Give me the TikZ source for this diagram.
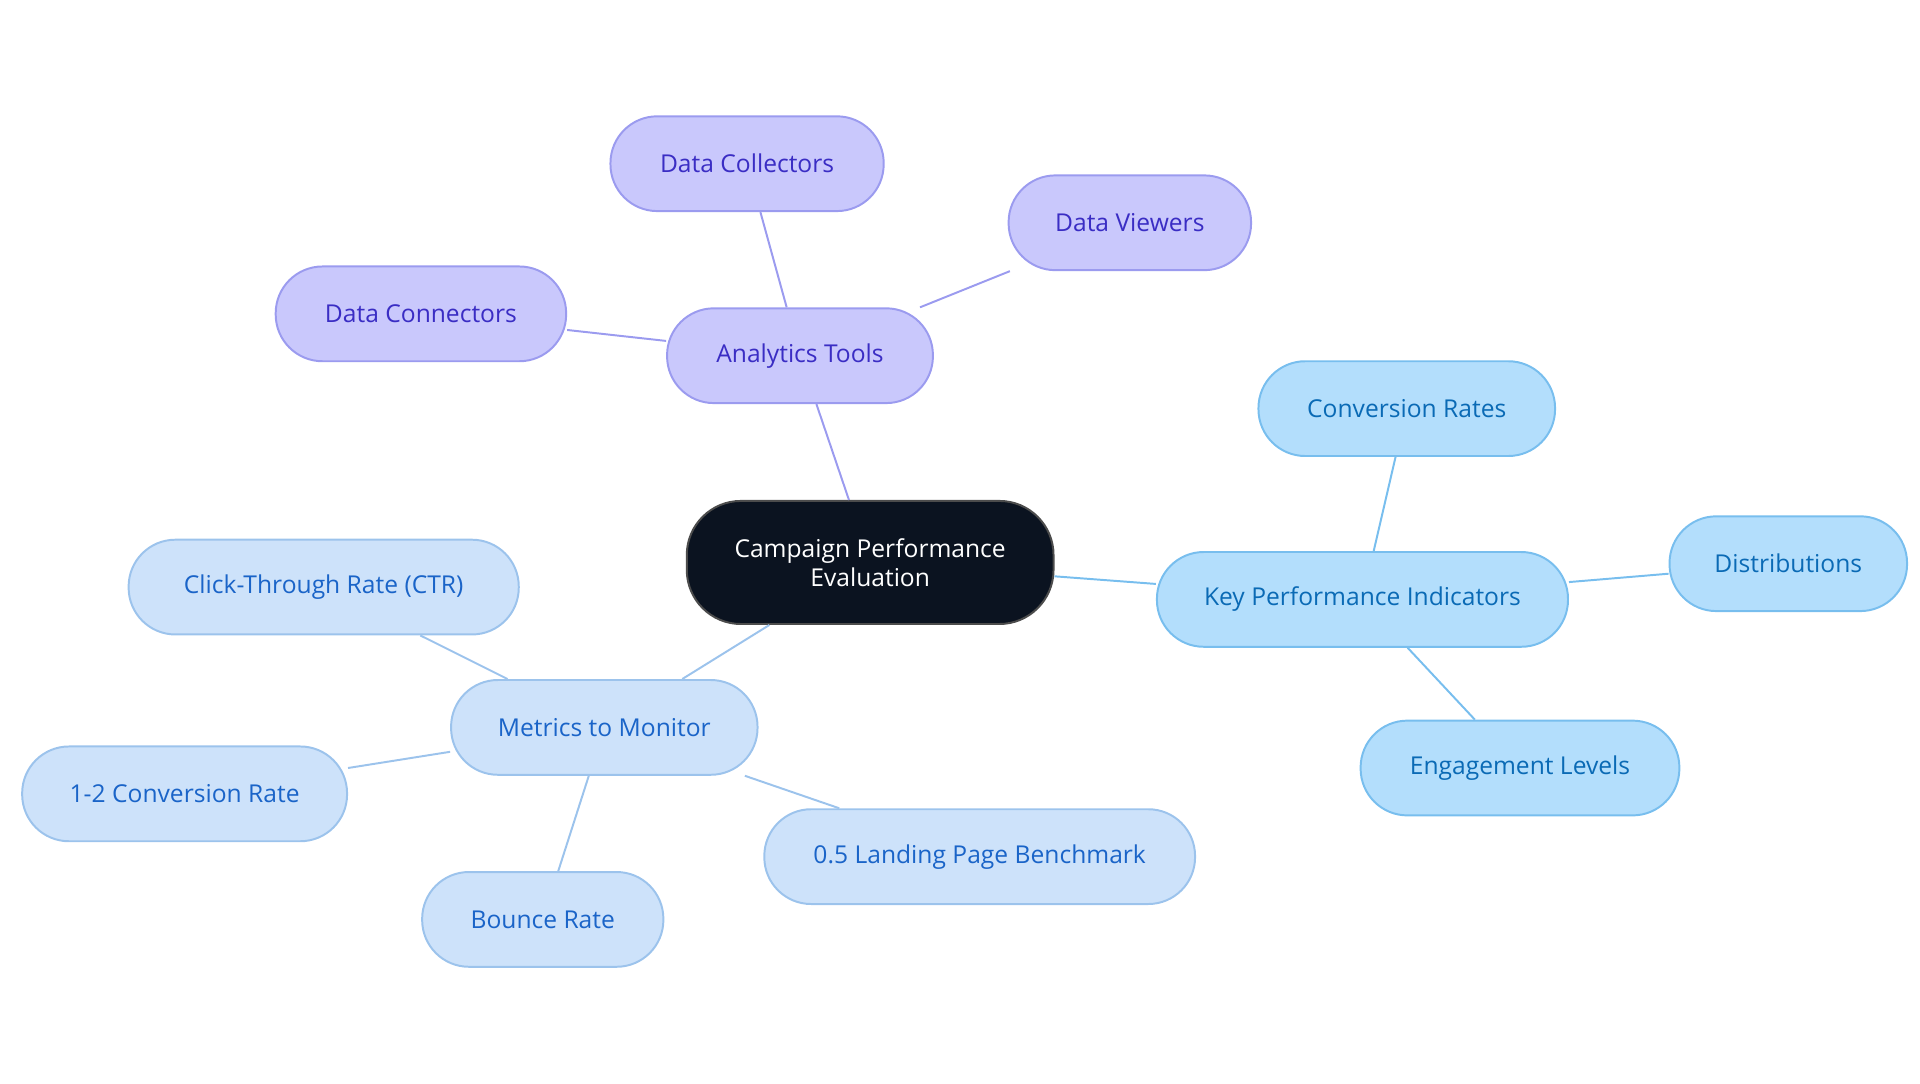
\documentclass[tikz,border=0pt]{standalone}
\usepackage{fontspec}
\setmainfont{Open Sans}
\usetikzlibrary{positioning}
\definecolor{tooledge}{HTML}{9B9BEF}
\definecolor{toolfill}{HTML}{C9C8FC}
\definecolor{tooltext}{HTML}{3A2DC4}
\definecolor{kpiedge}{HTML}{78BEEE}
\definecolor{kpifill}{HTML}{B3DEFC}
\definecolor{kpitext}{HTML}{0A6AB5}
\definecolor{metedge}{HTML}{9CC3EC}
\definecolor{metfill}{HTML}{CDE2FA}
\definecolor{mettext}{HTML}{1A64C8}
\definecolor{rootfill}{HTML}{0B1320}
\tikzset{
  leaf/.style={draw, thick, rounded corners=19pt, minimum height=38.5pt, font=\fontsize{10}{12}\selectfont, inner sep=0pt},
  tool/.style={leaf, draw=tooledge, fill=toolfill, text=tooltext},
  kpi/.style={leaf, draw=kpiedge, fill=kpifill, text=kpitext},
  met/.style={leaf, draw=metedge, fill=metfill, text=mettext}
}
\begin{document}
\begin{tikzpicture}[x=0.5pt, y=-0.5pt]
        \useasboundingbox (0,0) rectangle (1560,880);
        \node[draw=black!70, thick, fill=rootfill, text=white, rounded corners=22pt, minimum width=149pt, minimum height=50pt, align=center, font=\fontsize{10}{12}\selectfont] (root) at (707,457) {Campaign Performance\\Evaluation};

        \node[tool, minimum width=108pt] (tools) at (650,289) {Analytics Tools};
        \node[tool, minimum width=111pt] (collect) at (607,133) {Data Collectors};
        \node[tool, minimum width=98.5pt] (viewers) at (918,181) {Data Viewers};
        \node[tool, minimum width=118pt] (connect) at (342,255) {Data Connectors};

        \node[kpi, minimum width=167pt] (kpis) at (1107,487) {Key Performance Indicators};
        \node[kpi, minimum width=120.5pt] (convrate) at (1143,332) {Conversion Rates};
        \node[kpi, minimum width=96.5pt] (distrib) at (1453,458) {Distributions};
        \node[kpi, minimum width=129.5pt] (engage) at (1235,624) {Engagement Levels};

        \node[met, minimum width=124.5pt] (metrics) at (491,591) {Metrics to Monitor};
        \node[met, minimum width=158.5pt] (ctr) at (263,477) {Click-Through Rate (CTR)};
        \node[met, minimum width=132pt] (conv) at (150,645) {1-2 Conversion Rate};
        \node[met, minimum width=98pt] (bounce) at (441,747) {Bounce Rate};
        \node[met, minimum width=175pt] (landing) at (796,696) {0.5 Landing Page Benchmark};

        \begin{scope}[on background layer/.try]
        \draw[tooledge, thick] (root) -- (tools) (tools) -- (collect) (tools) -- (viewers) (tools) -- (connect);
        \draw[kpiedge, thick] (root) -- (kpis) (kpis) -- (convrate) (kpis) -- (distrib) (kpis) -- (engage);
        \draw[metedge, thick] (root) -- (metrics) (metrics) -- (ctr) (metrics) -- (conv) (metrics) -- (bounce) (metrics) -- (landing);
        \end{scope}
\end{tikzpicture}
\end{document}
